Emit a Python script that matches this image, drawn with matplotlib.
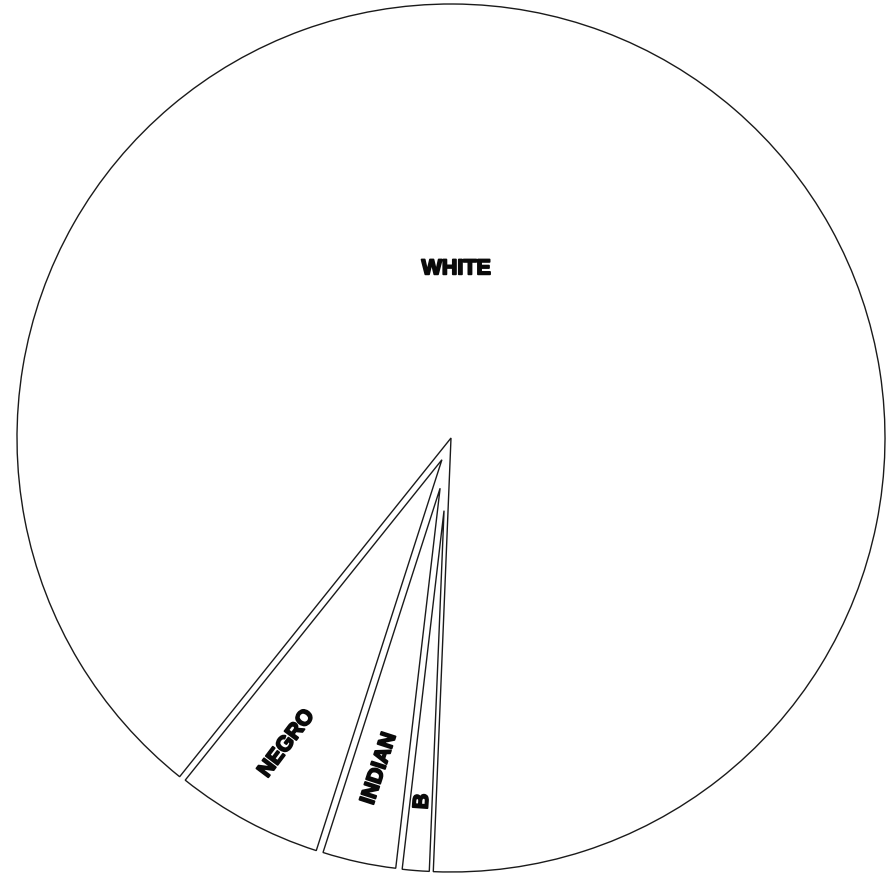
import numpy as np
import matplotlib
matplotlib.use("Agg")
import matplotlib.pyplot as plt
import matplotlib.patheffects as pe

# data (percent of total)
groups = ["NEGRO", "INDIAN", "B", "WHITE"]
shares = [5.8, 3.1, 1.2, 89.9]

# label placement: distance from centre (fraction of radius), text angle
label_r = [0.80, 0.78, 0.84, 0.39]
label_rot = [53, 72, 86, 0]
white_label_angle = 88.3

start = 231.3          # where NEGRO begins (deg, counter clockwise from +x)
px = 434.0             # pixels per unit radius

# inset (pixels) of the left / right edge of each small slice
inset_left = [6.5, 5.0, 1.5]
inset_right = [2.0, 5.0, 4.0]

fig = plt.figure(figsize=(8.88, 8.73), dpi=100)
ax = fig.add_axes([0, 0, 1, 1])

wedges, _ = ax.pie(shares, startangle=start, counterclock=True,
                   wedgeprops=dict(facecolor="white", edgecolor="#1a1a1a",
                                   linewidth=1.0))

# pull the small slices in from their borders, like the hand drawn original
for i, w in enumerate(wedges[:-1]):
    a = np.deg2rad(w.theta1)
    b = np.deg2rad(w.theta2)
    n = np.array([[-np.sin(a), np.cos(a)],
                  [np.sin(b), -np.cos(b)]])
    u = np.linalg.solve(n, [inset_left[i] / px, inset_right[i] / px])
    mid = (a + b) / 2
    w.set_center(tuple(u))
    w.set_radius(1 - (u[0] * np.cos(mid) + u[1] * np.sin(mid)))

# labels
for i, w in enumerate(wedges):
    if groups[i] == "WHITE":
        ang = np.deg2rad(white_label_angle)
    else:
        ang = np.deg2rad((w.theta1 + w.theta2) / 2)
    ax.text(label_r[i] * np.cos(ang), label_r[i] * np.sin(ang), groups[i],
            rotation=label_rot[i], rotation_mode="anchor",
            ha="center", va="center", fontsize=15.5, fontweight="bold",
            family="Liberation Sans", color="#0a0a0a",
            path_effects=[pe.withStroke(linewidth=1.3, foreground="#0a0a0a")])

# centre of the circle sits at pixel (451, 438)
ax.set_aspect("auto")
ax.set_xlim(-451 / px, (888 - 451) / px)
ax.set_ylim(-(873 - 438) / px, 438 / px)
ax.axis("off")

fig.savefig("out.png", dpi=100, facecolor="white")
